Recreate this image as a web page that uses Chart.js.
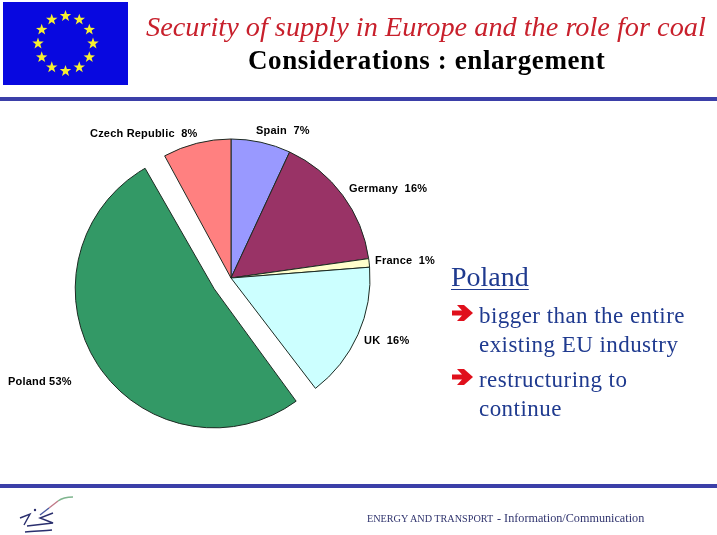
<!DOCTYPE html>
<html lang="en">
<head>
  <meta charset="UTF-8">
  <title>Security of supply in Europe and the role for coal</title>
  <script src="https://cdn.jsdelivr.net/npm/chart.js"></script>
  <style>
    html, body { margin: 0; padding: 0; background: #fff; overflow: hidden; }
    #page { position: relative; width: 717px; height: 535px; overflow: hidden; }
    #page > * { position: absolute; }
    canvas { left: 0; top: 0; }
    .rule { left: 0; width: 717px; height: 4px; background: #3b3fa8; }
    .txt { white-space: pre; line-height: 1; }
    .serif { font-family: "Liberation Serif", serif; }
    .lbl { font: bold 11px "Liberation Sans", Arial, sans-serif; color: #000; white-space: pre; line-height: 1; position: absolute; letter-spacing: 0.2px; }
    .body { font-size: 23px; color: #1f3a8f; letter-spacing: 0.45px; }
  </style>
</head>
<body>
  <div id="page">
    <canvas id="pie" width="717" height="535"></canvas>

    <svg id="flag" style="left:3px;top:2px" width="125" height="83" viewBox="0 0 125 83"></svg>
    <div class="txt serif" style="left:146px;top:13px;font-size:28.3px;font-style:italic;color:#c8202c">Security of supply in Europe and the role for coal</div>
    <div class="txt serif" style="left:248px;top:47px;font-size:27px;font-weight:bold;color:#000;letter-spacing:0.6px">Considerations : enlargement</div>
    <div class="rule" style="top:97px"></div>

    <div class="txt serif" style="left:451px;top:263px;font-size:28px;color:#1f3a8f;text-decoration:underline;text-decoration-thickness:1px;text-underline-offset:3px">Poland</div>
    <svg style="left:452px;top:305px" width="22" height="16" viewBox="0 0 22 16"><path d="M0 5.5H10L5 0H12L21 8L12 16H5L10 10.5H0Z" fill="#e0101c"/></svg>
    <div class="txt serif body" style="left:479px;top:304px">bigger than the entire</div>
    <div class="txt serif body" style="left:479px;top:333px">existing EU industry</div>
    <svg style="left:452px;top:369px" width="22" height="16" viewBox="0 0 22 16"><path d="M0 5.5H10L5 0H12L21 8L12 16H5L10 10.5H0Z" fill="#e0101c"/></svg>
    <div class="txt serif body" style="left:479px;top:368px">restructuring to</div>
    <div class="txt serif body" style="left:479px;top:397px">continue</div>

    <div class="rule" style="top:484px"></div>
    <svg style="left:16px;top:496px" width="60" height="39" viewBox="0 0 60 39" fill="none" stroke-width="1.4">
      <path d="M57 1C50 1 46 2 42 5" stroke="#7fb58e"/>
      <path d="M42 5L33 12" stroke="#c07a88"/>
      <path d="M33 12L24 19" stroke="#4a5aa0"/>
      <circle cx="19" cy="14" r="1.2" fill="#2a2f6e" stroke="none"/>
      <path d="M4 22L14 18L8 29" stroke="#2a2f6e"/>
      <path d="M37 17L24 22L37 27L11 30" stroke="#2a2f6e"/>
      <path d="M9 36C18 35 28 35 36 34" stroke="#2a2f6e"/>
    </svg>
    <div class="txt serif" style="left:367px;top:514px;font-size:10.2px;color:#30346e">ENERGY AND TRANSPORT</div>
    <div class="txt serif" style="left:497px;top:512px;font-size:12.2px;color:#30346e">- Information/Communication</div>
  </div>

  <script>
    const categories = ['Spain', 'Germany', 'France', 'UK', 'Poland', 'Czech Republic'];
    const shares = [7, 16, 1, 16, 53, 8];
    const sliceColors = ['#9999ff', '#993366', '#ffffcc', '#ccffff', '#339966', '#ff8080'];
    const sliceOffsets = [0, 0, 0, 0, 80, 0];
    const labelSpots = [[256, 125], [349, 183], [375, 255], [364, 335], [8, 376], [90, 128]];

    // flag stars
    const flag = document.getElementById('flag');
    let flagSvg = '<rect width="125" height="83" fill="#0808e0"/>';
    for (let i = 0; i < 12; i++) {
      const a = i * Math.PI / 6;
      const cx = 62.5 + 27.5 * Math.sin(a), cy = 41.5 - 27.5 * Math.cos(a);
      let pts = '';
      for (let k = 0; k < 10; k++) {
        const r = k % 2 ? 2.4 : 6, b = k * Math.PI / 5;
        pts += (cx + r * Math.sin(b)).toFixed(1) + ',' + (cy - r * Math.cos(b)).toFixed(1) + ' ';
      }
      flagSvg += '<polygon points="' + pts + '" fill="#f6f030"/>';
    }
    flag.innerHTML = flagSvg;

    // arc offset also grows the slice radius, so take that back off
    const keepRadius = {
      id: 'keepRadius',
      afterDatasetsUpdate(chart) {
        chart.getDatasetMeta(0).data.forEach((arc, i) => {
          arc.outerRadius -= sliceOffsets[i] / 4;
        });
      }
    };

    new Chart(document.getElementById('pie').getContext('2d'), {
      type: 'pie',
      data: {
        labels: categories,
        datasets: [{
          data: shares,
          backgroundColor: sliceColors,
          offset: sliceOffsets,
          borderColor: '#1c2a22',
          borderWidth: 1
        }]
      },
      options: {
        responsive: false,
        animation: false,
        radius: 139,
        layout: { padding: { left: 31, right: 286, top: 78, bottom: 57 } },
        plugins: { legend: { display: false }, tooltip: { enabled: false } }
      },
      plugins: [keepRadius]
    });

    // slice labels
    const page = document.getElementById('page');
    categories.forEach((name, i) => {
      const el = document.createElement('div');
      el.className = 'lbl';
      el.style.left = labelSpots[i][0] + 'px';
      el.style.top = labelSpots[i][1] + 'px';
      el.textContent = name + (name === 'Poland' ? ' ' : '  ') + shares[i] + '%';
      page.appendChild(el);
    });
  </script>
</body>
</html>
